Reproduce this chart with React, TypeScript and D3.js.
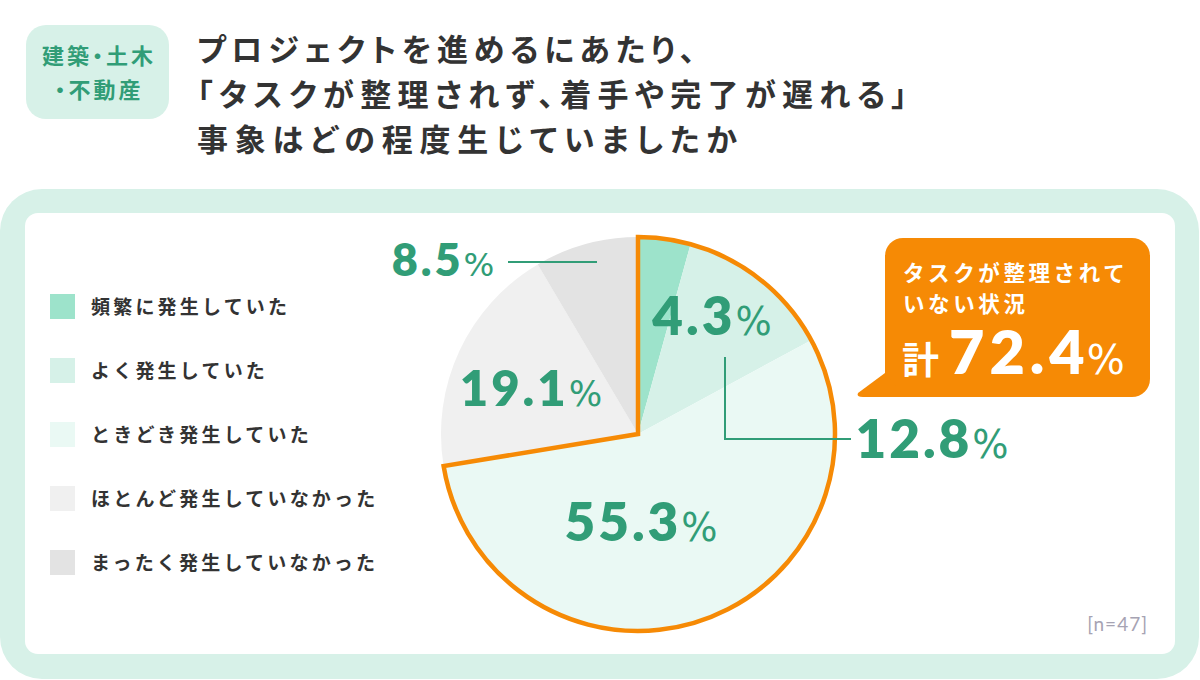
import React from 'react'
import * as d3 from 'd3'

// data
const categories = [
  '頻繁に発生していた',
  'よく発生していた',
  'ときどき発生していた',
  'ほとんど発生していなかった',
  'まったく発生していなかった',
]
const values = [4.3, 12.8, 55.3, 19.1, 8.5]
const colors = ['#9de3cb', '#d6f1e8', '#eaf9f4', '#f0f0f0', '#e3e3e3']
const highlightCount = 3 // 頻繁 + よく + ときどき = 整理されていない状況
const titleLines = [
  'プロジェクトを進めるにあたり、',
  '「タスクが整理されず、着手や完了が遅れる」',
  '事象はどの程度生じていましたか',
]
const tagLines = ['建築・土木', '・不動産']
const calloutLines = ['タスクが整理されて', 'いない状況']
const sampleSize = 47

// layout
const W = 1200
const H = 680
const cx = 638
const cy = 434
const R = 197
const GREEN = '#319d77'
const ORANGE = '#f68a05'
const JP = '"Noto Sans CJK JP", "Noto Sans", sans-serif'
const NUM = 'Lato, "Open Sans", sans-serif'
const PCT = '"DejaVu Sans", sans-serif'
const palt = { fontFeatureSettings: '"palt"' }

// label anchors relative to the pie centre (baseline, centred)
const labelLayout: { at: [number, number]; size: number; leader?: [number, number][] }[] = [
  { at: [74, -99], size: 53 },
  { at: [294, 24], size: 53, leader: [[87, -77], [87, 5], [213, 5]] },
  { at: [3, 107], size: 53 },
  { at: [-107, -28], size: 49 },
  { at: [-195, -158], size: 45, leader: [[-41, -172], [-130, -172]] },
]

const App = () => {
  const pie = d3.pie<number>().sort(null).value(d => d)
  const arcs = pie(values)
  const arc = d3.arc<d3.PieArcDatum<number>>().innerRadius(0).outerRadius(R)

  // outline for the "not organised" group
  const groupArc = d3.arc()({
    innerRadius: 0,
    outerRadius: R,
    startAngle: arcs[0].startAngle,
    endAngle: arcs[highlightCount - 1].endAngle,
  } as any)
  const total = d3.sum(values.slice(0, highlightCount)).toFixed(1)

  const legendY = d3.scalePoint<string>().domain(categories).range([294, 550])
  const leaderLine = d3.line()

  // callout box
  const bx0 = 885, by0 = 238, bx1 = 1150, by1 = 397, br = 18
  const tail = `M${bx0},${by1 - 24} L${bx0 - 27},${by1 - 4} Q${bx0 - 29},${by1} ${bx0 - 22},${by1} L${bx0 + 20},${by1} Z`

  return (
    <>
      <style>{'body{margin:0}'}</style>
      <svg width={W} height={H} style={{ display: 'block' }}>
        <rect x={0} y={0} width={W} height={H} fill="#fff" />
        {/* header tag */}
        <rect x={26} y={25} width={143} height={94} rx={20} fill="#d7f1e8" />
        {tagLines.map((t, i) => (
          <text key={t} x={99} y={64 + i * 34} textAnchor="middle" fontFamily={JP}
            fontWeight={700} fontSize={22} letterSpacing={3} fill={GREEN} style={palt}>{t}</text>
        ))}
        {/* title */}
        {titleLines.map((t, i) => (
          <text key={t} x={197} y={61 + i * 45} fontFamily={JP} fontWeight={700}
            fontSize={31} fill="#333" style={palt}
            textLength={[498, 710, 540][i]} lengthAdjust="spacing">{t}</text>
        ))}
        {/* panel */}
        <rect x={0} y={189} width={1199} height={490} rx={42} fill="#d7f1e8" />
        <rect x={25} y={213} width={1150} height={441} rx={13} fill="#fff" />

        {/* legend */}
        {categories.map((c, i) => (
          <g key={c} transform={`translate(50,${legendY(c)})`}>
            <rect width={25} height={25} fill={colors[i]} />
            <text x={41} y={20} fontFamily={JP} fontWeight={700} fontSize={19}
              letterSpacing={3.2} fill="#333">{c}</text>
          </g>
        ))}

        {/* pie */}
        <g transform={`translate(${cx},${cy})`}>
          {arcs.map((a, i) => (
            <path key={i} d={arc(a) || ''} fill={colors[i]} />
          ))}
          <path d={groupArc || ''} fill="none" stroke={ORANGE} strokeWidth={4.5}
            strokeLinejoin="miter" />
          {labelLayout.map((l, i) => (
            <g key={i}>
              {l.leader && (
                <path d={leaderLine(l.leader) || ''} fill="none" stroke={GREEN} strokeWidth={2} />
              )}
              <text x={l.at[0]} y={l.at[1]} textAnchor="middle" fill={GREEN}>
                <tspan fontFamily={NUM} fontSize={l.size} fontWeight={800} letterSpacing={3}>{values[i].toFixed(1)}</tspan>
                <tspan fontFamily={PCT} fontSize={l.size * 0.72} fontWeight={400} dx={0}>%</tspan>
              </text>
            </g>
          ))}
        </g>

        {/* callout */}
        <rect x={bx0} y={by0} width={bx1 - bx0} height={by1 - by0} rx={br} fill={ORANGE} />
        <path d={tail} fill={ORANGE} />
        {calloutLines.map((t, i) => (
          <text key={t} x={903} y={281 + i * 31} fontFamily={JP} fontWeight={700}
            fontSize={21.5} letterSpacing={3.6} fill="#fff">{t}</text>
        ))}
        <text x={902} y={374} fill="#fff">
          <tspan fontFamily={JP} fontWeight={700} fontSize={37}>計</tspan>
          <tspan fontFamily={NUM} fontWeight={800} fontSize={61} letterSpacing={5} dx={10}>{total}</tspan>
          <tspan fontFamily={PCT} fontWeight={400} fontSize={40} dx={-3}>%</tspan>
        </text>

        {/* sample size */}
        <text x={1148} y={631} textAnchor="end" fontFamily={NUM} fontSize={19}
          letterSpacing={1} fill="#a6a3b3">{`[n=${sampleSize}]`}</text>
      </svg>
    </>
  )
}

export default App
